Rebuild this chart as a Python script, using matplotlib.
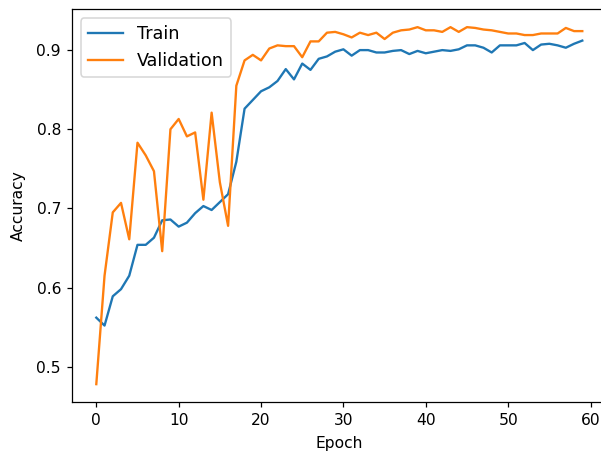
import matplotlib
matplotlib.use("Agg")
import matplotlib.pyplot as plt
import numpy as np

epochs = list(range(60))
train_acc = [0.562, 0.552, 0.589, 0.598, 0.615, 0.654, 0.654, 0.663, 0.685, 0.686,
             0.677, 0.682, 0.694, 0.703, 0.698, 0.708, 0.718, 0.759, 0.826, 0.837,
             0.848, 0.853, 0.861, 0.876, 0.863, 0.883, 0.875, 0.889, 0.892, 0.898,
             0.901, 0.893, 0.900, 0.900, 0.897, 0.897, 0.899, 0.900, 0.895, 0.899,
             0.896, 0.898, 0.900, 0.899, 0.901, 0.906, 0.906, 0.903, 0.897, 0.906,
             0.906, 0.906, 0.909, 0.900, 0.907, 0.908, 0.906, 0.903, 0.908, 0.912]
val_acc = [0.478, 0.615, 0.695, 0.707, 0.661, 0.783, 0.767, 0.747, 0.646, 0.800,
           0.813, 0.791, 0.796, 0.711, 0.821, 0.733, 0.678, 0.855, 0.887, 0.894,
           0.887, 0.902, 0.906, 0.905, 0.905, 0.891, 0.911, 0.911, 0.922, 0.923,
           0.920, 0.916, 0.922, 0.919, 0.922, 0.914, 0.922, 0.925, 0.926, 0.929,
           0.925, 0.925, 0.923, 0.929, 0.923, 0.929, 0.928, 0.926, 0.925, 0.923,
           0.921, 0.921, 0.919, 0.919, 0.921, 0.921, 0.921, 0.928, 0.924, 0.924]

DPI = 112
fig = plt.figure(figsize=(601/DPI, 455/DPI), dpi=DPI)
ax = fig.add_axes([72/601, 53/455, (606.6-72)/601, (402-9.3)/455])
ax.plot(epochs, train_acc, label="Train")
ax.plot(epochs, val_acc, label="Validation")
ax.set_xlabel("Epoch", labelpad=5.5)
ax.set_ylabel("Accuracy", labelpad=7)
ax.legend(loc="upper left", fontsize=11.3)
fig.savefig("out.png", dpi=DPI)
